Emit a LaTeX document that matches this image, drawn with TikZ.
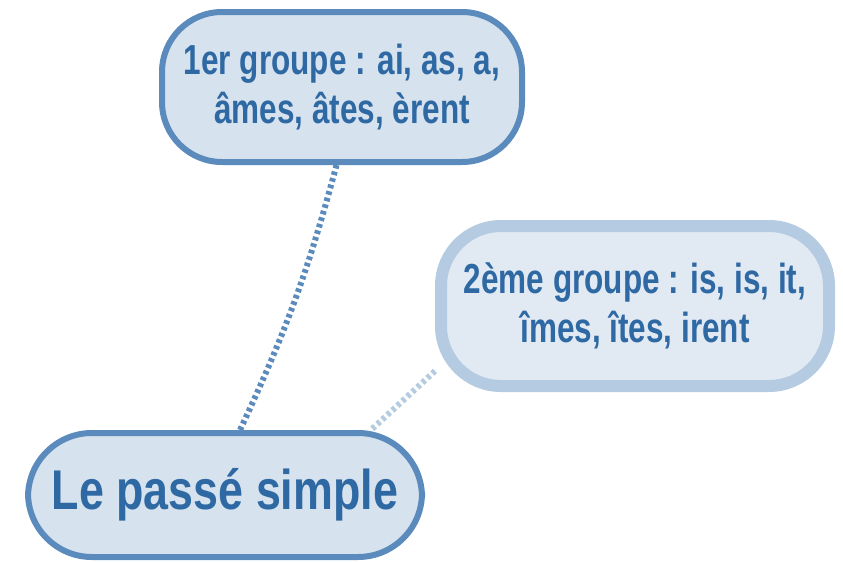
\documentclass[tikz,border=0pt]{standalone}
\usepackage{fontspec}
\setmainfont{Liberation Sans}
\newfontfamily\narrowfont[FakeStretch=0.75]{Liberation Sans}
\newfontfamily\widefont[FakeStretch=0.8]{Liberation Sans}
\definecolor{darkrim}{HTML}{5B8BBD}
\definecolor{darkfill}{HTML}{D6E2EE}
\definecolor{lightrim}{HTML}{B4CBE1}
\definecolor{lightfill}{HTML}{E1E9F3}
\definecolor{inktext}{HTML}{2F69A3}
\pgfdeclarelayer{background}
\pgfsetlayers{background,main}
\begin{document}
\begin{tikzpicture}[
	x=0.5pt,y=-0.5pt,
	text=inktext,
	grp/.style={draw=darkrim,fill=darkfill,line width=3pt,rounded corners=30pt,align=center,
		font=\narrowfont\bfseries\fontsize{21}{24.5}\selectfont,minimum width=180pt,minimum height=75pt},
	grplight/.style={grp,draw=lightrim,fill=lightfill,line width=6pt,minimum width=194pt,minimum height=80pt},
	root/.style={grp,rounded corners=32pt,font=\widefont\bfseries\fontsize{28}{30}\selectfont,
		minimum width=197pt,minimum height=62pt},
	link/.style={draw=darkrim,line width=3pt,dash pattern=on 1.8pt off 1.6pt},
	linklight/.style={link,draw=lightrim,line width=3pt},
	]
\useasboundingbox (0,0) rectangle (843,563);
\node [grp] (g1) at (342,87) {1er groupe : ai, as, a,\\âmes, âtes, èrent};
\node [grplight] (g2) at (635,306) {2ème groupe : is, is, it,\\îmes, îtes, irent};
\node [root] (ps) at (225,495) {Le passé simple};
\begin{pgfonlayer}{background}
	\draw [link] (g1.266) to [bend left=5] (ps.77);
	\draw [linklight] (g2.198) -- (ps.24);
\end{pgfonlayer}
\end{tikzpicture}
\end{document}
